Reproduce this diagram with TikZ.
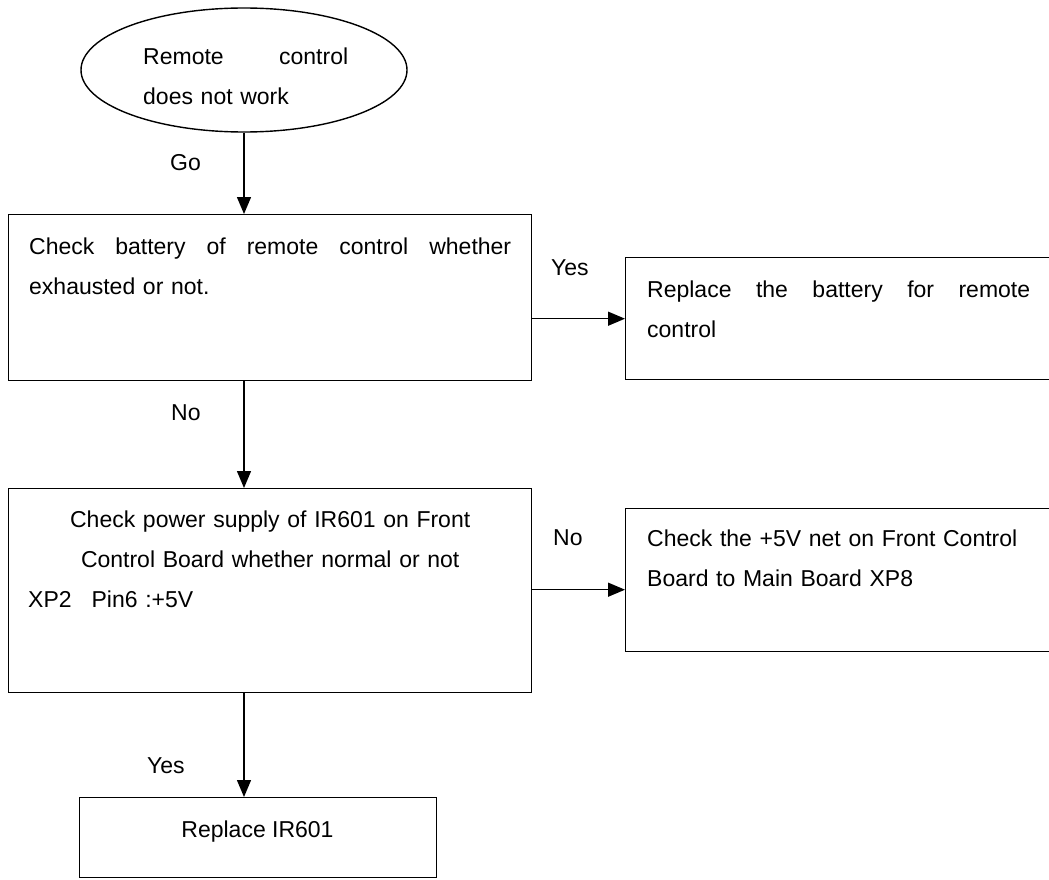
\documentclass[tikz,border=0pt]{standalone}
\usepackage{fontspec}
\setmainfont{Liberation Sans}
\usetikzlibrary{shapes.geometric, arrows.meta, positioning, calc}

\tikzset{
  box/.style={draw, line width=1.4pt, anchor=north west, inner sep=0pt},
  txt/.style={font=\fontsize{23}{40}\selectfont, inner sep=0pt},
  lbl/.style={font=\fontsize{23}{28}\selectfont, inner sep=0pt, anchor=base west},
  arr/.style={line width=1.4pt, -{Triangle[length=17pt, width=14pt]}}
}

\begin{document}
\begin{tikzpicture}[x=1pt, y=-1pt]

  \useasboundingbox (0,0) rectangle (1049,880);
  \clip (0,0) rectangle (1049,880);

  % Start
  \node[draw, ellipse, line width=1.4pt, minimum width=326pt, minimum height=124pt] (start) at (244,70) {};
  \node[txt, anchor=north west, text width=205pt, align=left] (starttxt) at (143,48)
    {\makebox[205pt][s]{Remote\hfill control}\\does not work};
  \coordinate (spine) at (244,0);

  % Battery check
  \node[box, minimum width=523pt, minimum height=166pt] (chkbat) at (8,214) {};
  \node[txt, anchor=north west, text width=485pt, align=left] (chkbattxt) at (29,238)
    {\makebox[482pt][s]{Check\hfill battery\hfill of\hfill remote\hfill control\hfill whether}\\exhausted or not.};

  \node[box, minimum width=440pt, minimum height=122pt] (newbat) at (625,257) {};
  \node[txt, anchor=north west, text width=400pt, align=left] (newbattxt) at (647,281)
    {\makebox[383pt][s]{Replace\hfill the\hfill battery\hfill for\hfill remote}\\control};

  % Power check
  \node[box, minimum width=523pt, minimum height=204pt] (chkpwr) at (8,488) {};
  \node[txt, anchor=north west, text width=484pt, align=left] (chkpwrtxt) at (28,511)
    {\makebox[484pt]{Check power supply of IR601 on Front}\\
     \makebox[484pt]{Control Board whether normal or not}\\
     XP2\hspace{20pt}Pin6 :+5V};

  \node[box, minimum width=440pt, minimum height=143pt] (chknet) at (625,508) {};
  \node[txt, anchor=north west, text width=400pt, align=left] (chknettxt) at (647,530)
    {Check the +5V net on Front Control\\Board to Main Board XP8};

  % Replace IR601
  \node[box, minimum width=357pt, minimum height=80pt] (newir) at (79,797) {};
  \node[txt, anchor=base] (newirtxt) at (257.5,837) {Replace IR601};

  % Connectors
  \draw[arr] (start.south) -- (spine |- chkbat.north);
  \draw[arr] (spine |- chkbat.south) -- (spine |- chkpwr.north);
  \draw[arr] (spine |- chkpwr.south) -- (spine |- newir.north);
  \draw[arr] (newbat.west -| chkbat.east) -- (newbat.west);
  \draw[arr] ([yshift=-9.5pt]chknet.west -| chkpwr.east) -- ([yshift=-9.5pt]chknet.west);

  % Labels
  \node[lbl] (go) at (170,170) {Go};
  \node[lbl] (yes1) at (551,275) {Yes};
  \node[lbl] (no1) at (171,420) {No};
  \node[lbl] (no2) at (553,545) {No};
  \node[lbl] (yes2) at (147,773) {Yes};

\end{tikzpicture}
\end{document}
